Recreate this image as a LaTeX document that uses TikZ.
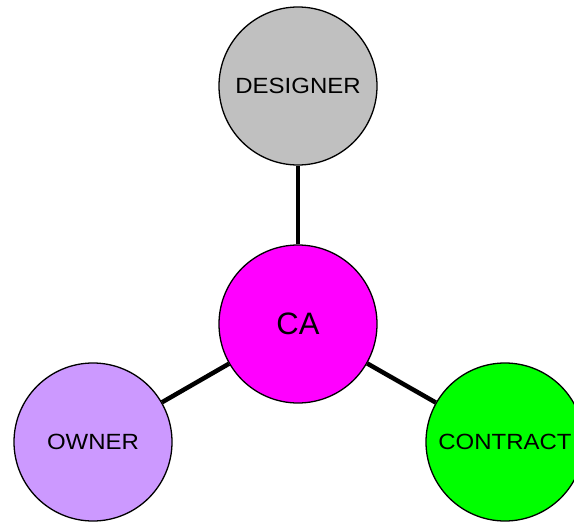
\documentclass[tikz,border=0pt]{standalone}
\usepackage{fontspec}
\setmainfont{Liberation Sans}[FakeStretch=1.09]
\newfontfamily\plainsans{Liberation Sans}
\usepackage{tikz}
\usetikzlibrary{positioning,calc}
\definecolor{designergray}{HTML}{C0C0C0}
\definecolor{owneriris}{HTML}{CC99FF}
\definecolor{camagenta}{HTML}{FF00FF}
\definecolor{contractgreen}{HTML}{00FF00}
\tikzset{party/.style={circle, draw, line width=1.3pt, minimum size=158pt, inner sep=0pt, font=\fontsize{22}{24}\selectfont}}

\begin{document}
\begin{tikzpicture}[x=1pt, y=-1pt, link/.style={line width=4.5pt}]
    \useasboundingbox (0,0) rectangle (574,522);
    \node[party, fill=camagenta, font=\plainsans\fontsize{31}{34}\selectfont] (ca) at (298,324) {CA};
    \node[party, fill=designergray] (designer) at (298,86) {DESIGNER};
    \node[party, fill=owneriris] (owner) at (93,442) {OWNER};
    \node[party, fill=contractgreen] (contract) at (505,442) {CONTRACT};

    \draw[link] (ca) -- (designer);
    \draw[link] (ca) -- (owner);
    \draw[link] (ca) -- (contract);
\end{tikzpicture}
\end{document}
